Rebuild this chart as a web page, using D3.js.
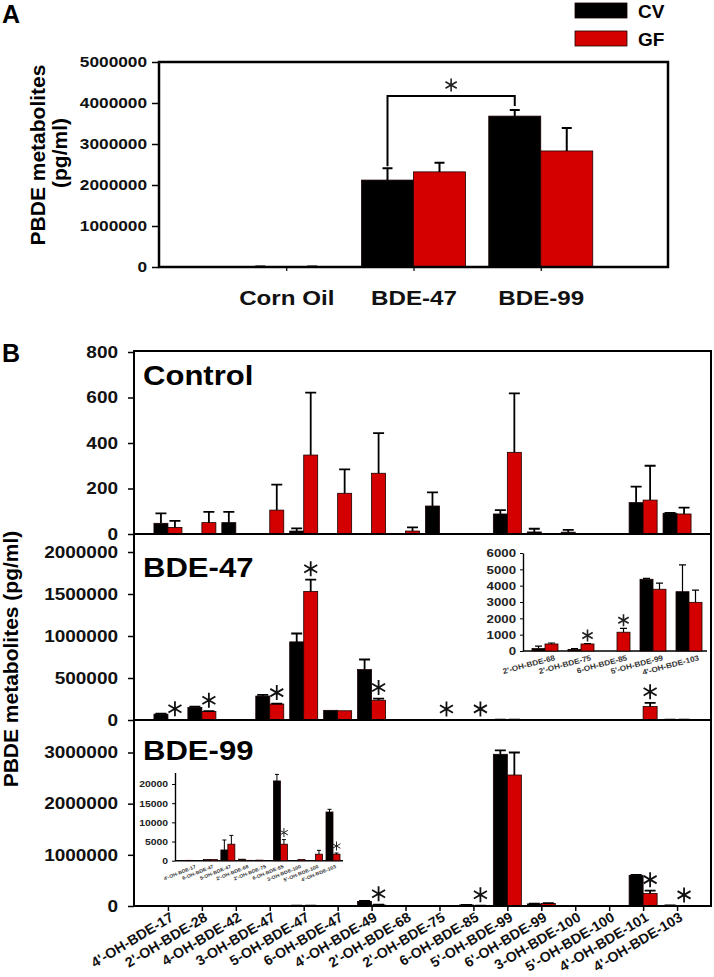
<!DOCTYPE html>
<html>
<head>
<meta charset="utf-8">
<script src="https://cdn.jsdelivr.net/npm/d3@7"></script>
<style>
  body { margin: 0; background: #fff; }
  svg { display: block; font-family: Arial, "Liberation Sans", sans-serif; font-weight: bold; }
</style>
</head>
<body>
<script>
// ---------- Panel A data ----------
const groupsA = ["Corn Oil", "BDE-47", "BDE-99"];
const cvA = [8000, 2120000, 3680000];
const cvErrA = [12000, 2410000, 3830000];
const gfA = [8000, 2320000, 2830000];
const gfErrA = [12000, 2540000, 3390000];
const ticksA = [0, 1000000, 2000000, 3000000, 4000000, 5000000];
const bracketA = 4170000;

// ---------- Panel B data ----------
const catsB = ["4'-OH-BDE-17", "2'-OH-BDE-28", "4-OH-BDE-42", "3-OH-BDE-47", "5-OH-BDE-47",
  "6-OH-BDE-47", "4'-OH-BDE-49", "2'-OH-BDE-68", "2'-OH-BDE-75", "6-OH-BDE-85", "5'-OH-BDE-99",
  "6'-OH-BDE-99", "3-OH-BDE-100", "5'-OH-BDE-100", "4'-OH-BDE-101", "4'-OH-BDE-103"];

// Control
const cvCtl = [47, 0, 50, 0, 13, 0, 0, 0, 123, 0, 88, 9, 8, 0, 138, 91];
const cvErrCtl = [91, 0, 97, 0, 25, 0, 0, 0, 183, 0, 105, 23, 18, 0, 208, 93];
const gfCtl = [29, 50, 0, 105, 347, 179, 267, 13, 0, 0, 359, 0, 0, 0, 149, 88];
const gfErrCtl = [58, 97, 0, 217, 621, 284, 443, 29, 0, 0, 618, 0, 0, 0, 300, 116];
const ticksCtl = [0, 200, 400, 600, 800];

// BDE-47
const cv47 = [70000, 150000, 0, 285000, 930000, 115000, 600000, 150, 100, 0, 4390, 0, 0, 0, 0, 3630];
const cvErr47 = [75000, 160000, 0, 300000, 1030000, 115000, 720000, 300, 150, 0, 4450, 0, 0, 0, 0, 5270];
const gf47 = [3000, 100000, 0, 190000, 1530000, 110000, 235000, 430, 430, 1150, 3780, 0, 0, 0, 160000, 2980];
const gfErr47 = [3000, 105000, 0, 195000, 1670000, 110000, 255000, 490, 460, 1390, 4150, 0, 0, 0, 205000, 3730];
const sig47 = ["4'-OH-BDE-17", "2'-OH-BDE-28", "3-OH-BDE-47", "5-OH-BDE-47", "4'-OH-BDE-49",
  "2'-OH-BDE-75", "6-OH-BDE-85", "4'-OH-BDE-101"];
const ticks47 = [0, 500000, 1000000, 1500000, 2000000];

// BDE-99
const cv99 = [100, 0, 0, 0, 2800, 300, 90000, 400, 150, 20800, 2965000, 40000, 0, 0, 600000, 12700];
const cvErr99 = [100, 0, 0, 0, 5400, 300, 100000, 400, 150, 22500, 3040000, 45000, 0, 0, 610000, 13400];
const gf99 = [0, 0, 0, 0, 4300, 300, 20000, 100, 0, 4300, 2560000, 50000, 300, 1700, 245000, 1700];
const gfErr99 = [0, 0, 0, 0, 6600, 300, 25000, 100, 0, 5500, 3000000, 55000, 300, 2700, 300000, 2000];
const sig99 = ["4'-OH-BDE-49", "6-OH-BDE-85", "4'-OH-BDE-101", "4'-OH-BDE-103"];
const ticks99 = [0, 1000000, 2000000, 3000000];

// inset in BDE-47 panel
const catsIn47 = ["2'-OH-BDE-68", "2'-OH-BDE-75", "6-OH-BDE-85", "5'-OH-BDE-99", "4'-OH-BDE-103"];
const cvIn47 = [150, 100, 0, 4390, 3630];
const cvErrIn47 = [300, 150, 0, 4450, 5270];
const gfIn47 = [430, 430, 1150, 3780, 2980];
const gfErrIn47 = [490, 460, 1390, 4150, 3730];
const sigIn47 = ["2'-OH-BDE-75", "6-OH-BDE-85"];
const ticksIn47 = [0, 1000, 2000, 3000, 4000, 5000, 6000];

// inset in BDE-99 panel
const catsIn99 = ["4'-OH-BDE-17", "6-OH-BDE-47", "5-OH-BDE-47", "2'-OH-BDE-68", "2'-OH-BDE-75",
  "6-OH-BDE-85", "3-OH-BDE-100", "5'-OH-BDE-100", "4'-OH-BDE-103"];
const cvIn99 = [100, 300, 2800, 400, 150, 20800, 0, 0, 12700];
const cvErrIn99 = [100, 300, 5400, 400, 150, 22500, 0, 0, 13400];
const gfIn99 = [0, 300, 4300, 100, 0, 4300, 300, 1700, 1700];
const gfErrIn99 = [0, 300, 6600, 100, 0, 5500, 300, 2700, 2000];
const sigIn99 = ["6-OH-BDE-85", "4'-OH-BDE-103"];
const ticksIn99 = [0, 5000, 10000, 15000, 20000];

const RED = "#d40000";

const svg = d3.select("body").append("svg")
    .attr("width", 714)
    .attr("height", 977);

// stretch text horizontally (source figure is a bit wider than tall)
function stretch(sel, k) {
    sel.each(function() {
        const w = this.getComputedTextLength();
        if (w > 0) d3.select(this).attr("textLength", w * k).attr("lengthAdjust", "spacingAndGlyphs");
    });
}

// paired bars with error bars
function drawBars(g, x, y, cats, cv, cvErr, gf, gfErr, bw, cap, lw) {
    const series = [
        { v: cv, e: cvErr, fill: "#000", off: -bw },
        { v: gf, e: gfErr, fill: RED, off: 0 }
    ];
    series.forEach(s => {
        const data = cats.map((c, i) => ({ c: c, v: s.v[i], e: s.e[i] })).filter(d => d.v > 0);
        g.selectAll(null).data(data).join("rect")
            .attr("x", d => x(d.c) + s.off)
            .attr("width", bw)
            .attr("y", d => y(d.v))
            .attr("height", d => y(0) - y(d.v))
            .attr("fill", s.fill)
            .attr("stroke", "#1a0000")
            .attr("stroke-width", 0.8);
        g.selectAll(null).data(data.filter(d => d.e > d.v)).join("path")
            .attr("d", d => {
                const cx = x(d.c) + s.off + bw / 2;
                return `M${cx},${y(d.v)}V${y(d.e)}M${cx - cap / 2},${y(d.e)}H${cx + cap / 2}`;
            })
            .attr("fill", "none")
            .attr("stroke", "#000")
            .attr("stroke-width", lw);
    });
}

// six-armed significance asterisk centred at (cx, cy)
function star(g, cx, cy, r, lw, color) {
    const dx = r * Math.cos(Math.PI / 6), dy = r * Math.sin(Math.PI / 6);
    g.append("path")
        .attr("d", `M${cx},${cy - r}V${cy + r}M${cx - dx},${cy - dy}L${cx + dx},${cy + dy}M${cx - dx},${cy + dy}L${cx + dx},${cy - dy}`)
        .attr("fill", "none")
        .attr("stroke", color)
        .attr("stroke-width", lw);
}

function stars(g, x, y, cats, gf, gfErr, sig, bw, gap, r, lw, color) {
    sig.forEach(c => {
        const i = cats.indexOf(c);
        const top = Math.max(gf[i], gfErr[i]);
        star(g, x(c) + bw / 2, y(top) - gap, r, lw, color);
    });
}

// ================= Panel A =================
const xA = d3.scalePoint().domain(groupsA).range([159, 668]).padding(1);
const yA = d3.scaleLinear().domain([0, 5000000]).range([267, 62]);
const gA = svg.append("g");

gA.append("text").attr("x", 2).attr("y", 23).attr("font-size", 25).text("A");

const yAxisA = gA.append("g")
    .attr("transform", "translate(159,0)")
    .call(d3.axisLeft(yA).tickValues(ticksA).tickSize(7).tickPadding(5).tickFormat(d3.format("d")));
yAxisA.select(".domain").remove();
yAxisA.selectAll(".tick line").attr("stroke-width", 1.5);
yAxisA.selectAll(".tick text").attr("font-size", 15).attr("font-family", null).attr("fill", "#111");
stretch(yAxisA.selectAll(".tick text"), 1.15);

const xAxisA = gA.append("g")
    .attr("transform", "translate(0,267)")
    .call(d3.axisBottom(xA).tickSize(4).tickSizeOuter(0));
xAxisA.select(".domain").remove();
xAxisA.selectAll(".tick line").attr("stroke-width", 1.2);
xAxisA.selectAll(".tick text").attr("font-size", 21).attr("font-family", null)
    .attr("y", 38).attr("dy", 0).attr("fill", "#111");
stretch(xAxisA.selectAll(".tick text"), 1.15);

drawBars(gA, xA, yA, groupsA, cvA, cvErrA, gfA, gfErrA, 52, 10, 2);

gA.append("rect")
    .attr("x", 159).attr("y", 62).attr("width", 509).attr("height", 205)
    .attr("fill", "none").attr("stroke", "#000").attr("stroke-width", 2.5);

// significance bracket between CV bars of BDE-47 and BDE-99
const bx1 = xA("BDE-47") - 26, bx2 = xA("BDE-99") - 26;
gA.append("path")
    .attr("d", `M${bx1},${yA(cvErrA[1]) - 2}V${yA(bracketA)}H${bx2}V${yA(cvErrA[2]) - 4}`)
    .attr("fill", "none").attr("stroke", "#000").attr("stroke-width", 2);
star(gA, (bx1 + bx2) / 2, yA(bracketA) - 11, 6.5, 1.6, "#222");

gA.append("text")
    .attr("transform", "translate(45,155) rotate(-90)")
    .attr("text-anchor", "middle").attr("font-size", 21)
    .text("PBDE metabolites");
gA.append("text")
    .attr("transform", "translate(67,153) rotate(-90)")
    .attr("text-anchor", "middle").attr("font-size", 21)
    .text("(pg/ml)");

// legend
const legend = svg.append("g");
[["CV", "#000", 3], ["GF", RED, 31]].forEach(([name, col, y0]) => {
    legend.append("rect").attr("x", 575).attr("y", y0).attr("width", 52).attr("height", 15)
        .attr("fill", col).attr("stroke", "#1a0000").attr("stroke-width", 0.8);
    legend.append("text").attr("x", 638).attr("y", y0 + 15).attr("font-size", 19).text(name);
});

// ================= Panel B =================
const gB = svg.append("g");
gB.append("text").attr("x", 2).attr("y", 362).attr("font-size", 25).text("B");

const xB = d3.scalePoint().domain(catsB).range([134, 711]).padding(1);
const panels = [
    { name: "Control", top: 351, bottom: 534, y: d3.scaleLinear().domain([0, 800]).range([534, 352]),
      ticks: ticksCtl, cv: cvCtl, cvErr: cvErrCtl, gf: gfCtl, gfErr: gfErrCtl, sig: [], title: 385 },
    { name: "BDE-47", top: 534, bottom: 720, y: d3.scaleLinear().domain([0, 2000000]).range([720, 552]),
      ticks: ticks47, cv: cv47, cvErr: cvErr47, gf: gf47, gfErr: gfErr47, sig: sig47, title: 577 },
    { name: "BDE-99", top: 720, bottom: 906, y: d3.scaleLinear().domain([0, 3000000]).range([906, 752.5]),
      ticks: ticks99, cv: cv99, cvErr: cvErr99, gf: gf99, gfErr: gfErr99, sig: sig99, title: 760 }
];

panels.forEach(p => {
    const g = gB.append("g");
    const ax = g.append("g")
        .attr("transform", "translate(134,0)")
        .call(d3.axisLeft(p.y).tickValues(p.ticks).tickSize(6).tickPadding(10).tickFormat(d3.format("d")));
    ax.select(".domain").remove();
    ax.selectAll(".tick line").attr("stroke-width", 1.5);
    ax.selectAll(".tick text").attr("font-size", 16.5).attr("font-family", null).attr("fill", "#111");
    stretch(ax.selectAll(".tick text"), 1.15);

    drawBars(g, xB, p.y, catsB, p.cv, p.cvErr, p.gf, p.gfErr, 14, 11, 1.8);
    stars(g, xB, p.y, catsB, p.gf, p.gfErr, p.sig, 14, 11, 7.5, 1.8, "#111");

    const t = g.append("text").attr("x", 143).attr("y", p.title).attr("font-size", 27).text(p.name);
    stretch(t, 1.15);

    g.append("rect")
        .attr("x", 134).attr("y", p.top).attr("width", 577).attr("height", p.bottom - p.top)
        .attr("fill", "none").attr("stroke", "#000").attr("stroke-width", 2);
});

// bottom category axis
const xAxisB = gB.append("g")
    .attr("transform", "translate(0,906)")
    .call(d3.axisBottom(xB).tickSize(5).tickSizeOuter(0));
xAxisB.select(".domain").remove();
xAxisB.selectAll(".tick line").attr("stroke-width", 1.5);
xAxisB.selectAll(".tick text")
    .attr("font-size", 14).attr("font-family", null).attr("fill", "#111")
    .attr("text-anchor", "end").attr("x", 0).attr("y", 0).attr("dy", 0)
    .attr("transform", "translate(6,14) rotate(-31)");
stretch(xAxisB.selectAll(".tick text"), 1.02);

gB.append("text")
    .attr("transform", "translate(18,659) rotate(-90)")
    .attr("text-anchor", "middle").attr("font-size", 21)
    .text("PBDE metabolites (pg/ml)");

// ---------- insets ----------
function inset(opts) {
    const g = svg.append("g");
    const ya = g.append("g")
        .attr("transform", `translate(${opts.x0},0)`)
        .call(d3.axisLeft(opts.y).tickValues(opts.ticks).tickSize(3).tickPadding(4).tickSizeOuter(0).tickFormat(d3.format("d")));
    ya.select(".domain").attr("stroke-width", 1.4);
    ya.selectAll(".tick line").attr("stroke-width", 1);
    ya.selectAll(".tick text").attr("font-size", opts.tickFont).attr("font-family", null).attr("fill", "#222");
    stretch(ya.selectAll(".tick text"), 1.15);

    const xa = g.append("g")
        .attr("transform", `translate(0,${opts.y(0)})`)
        .call(d3.axisBottom(opts.x).tickSize(0).tickSizeOuter(0));
    xa.select(".domain").attr("d", `M${opts.x0},0H${opts.x1}`).attr("stroke-width", 1.4);
    xa.selectAll(".tick text")
        .attr("font-size", opts.labFont).attr("font-family", null).attr("fill", "#333")
        .attr("text-anchor", "end").attr("x", 0).attr("y", 0).attr("dy", 0)
        .attr("transform", opts.labT);
    stretch(xa.selectAll(".tick text"), 1.1);

    drawBars(g, opts.x, opts.y, opts.cats, opts.cv, opts.cvErr, opts.gf, opts.gfErr, opts.bw, opts.cap, opts.lw);
    stars(g, opts.x, opts.y, opts.cats, opts.gf, opts.gfErr, opts.sig, opts.bw, opts.gap, opts.starR, opts.starLw, "#222");
}

inset({
    x0: 523, x1: 707,
    x: d3.scalePoint().domain(catsIn47).range([545, 689]),
    y: d3.scaleLinear().domain([0, 6000]).range([651, 553]),
    ticks: ticksIn47, cats: catsIn47,
    cv: cvIn47, cvErr: cvErrIn47, gf: gfIn47, gfErr: gfErrIn47, sig: sigIn47,
    bw: 13, cap: 7, lw: 1.2, gap: 8, starR: 6, starLw: 1.6,
    tickFont: 11.5, labFont: 7.5, labT: "translate(10,9) rotate(-15)"
});

inset({
    x0: 175, x1: 343,
    x: d3.scalePoint().domain(catsIn99).range([192.8, 333]),
    y: d3.scaleLinear().domain([0, 23000]).range([860.7, 772.5]),
    ticks: ticksIn99, cats: catsIn99,
    cv: cvIn99, cvErr: cvErrIn99, gf: gfIn99, gfErr: gfErrIn99, sig: sigIn99,
    bw: 7, cap: 4, lw: 1, gap: 7, starR: 4.5, starLw: 1,
    tickFont: 9, labFont: 4.8, labT: "translate(3,7) rotate(-22)"
});
</script>
</body>
</html>
